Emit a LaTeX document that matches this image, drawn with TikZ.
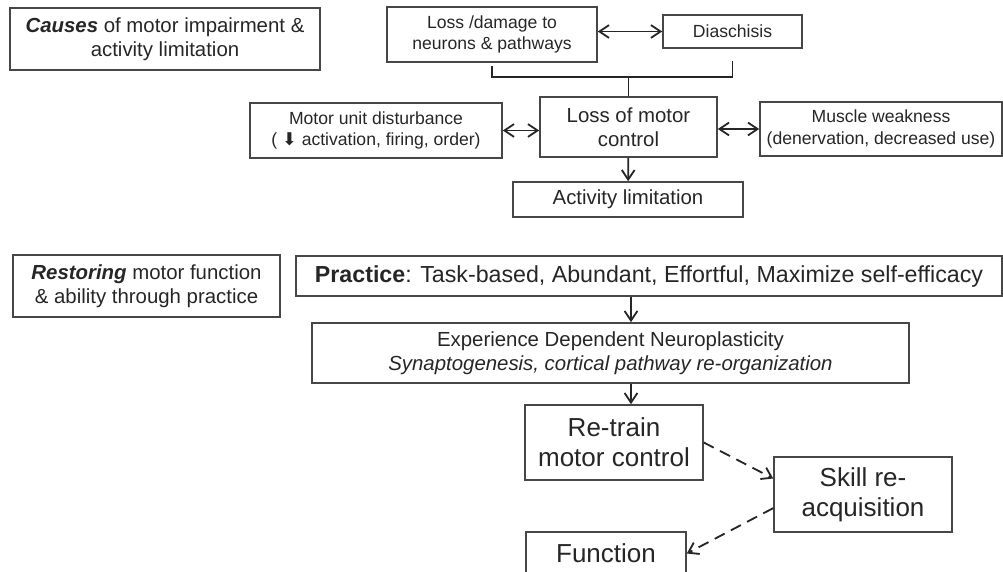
\documentclass[tikz,border=0pt]{standalone}
\usepackage{fontspec}
\setmainfont{Liberation Sans}
\newfontfamily\symfont{DejaVu Sans}
\usetikzlibrary{arrows.meta,positioning}

\begin{document}
\begin{tikzpicture}[x=0.025cm,y=-0.025cm,
    >={Straight Barb[length=2.4mm,width=3.2mm]},
    box/.style={draw=black!72,line width=1.1pt,align=center,inner sep=2pt,text=black!85},
    sz/.style 2 args={minimum width=#1*0.025cm,minimum height=#2*0.025cm},
    smallfont/.style={font=\fontsize{12.5}{15.5}\selectfont},
    midfont/.style={font=\fontsize{14.5}{17}\selectfont},
    bigfont/.style={font=\fontsize{18.5}{21.5}\selectfont},
    link/.style={draw=black!85,line width=1.3pt},
    dashlink/.style={link,dash pattern=on 8pt off 5pt}]
\clip (0,0) rectangle (1003,571);

% causes
\node[box,midfont,sz={310}{62}] (causes) at (165,39) {\textbf{\textit{Causes}} of motor impairment \&\\activity limitation};
\node[box,smallfont,sz={210}{55}] (loss) at (492,34.5) {Loss /damage to\\neurons \& pathways};
\node[box,smallfont,sz={139}{33}] (dia) at (732.5,31.5) {Diaschisis};
\node[box,midfont,sz={177}{60}] (lmc) at (628.5,127) {Loss of motor\\control};
\node[box,smallfont,sz={252}{55}] (mud) at (376,130.5) {Motor unit disturbance\\( {\symfont ⬇} activation, firing, order)};
\node[box,smallfont,sz={242}{54}] (mw) at (881,129) {Muscle weakness\\(denervation, decreased use)};
\node[box,midfont,sz={230}{35}] (act) at (628,199.5) {Activity limitation};

% restoring
\node[box,midfont,sz={267}{62}] (rest) at (146.5,286) {\textbf{\textit{Restoring}} motor function\\\& ability through practice};
\node[box,font=\fontsize{16.5}{19}\selectfont,sz={706}{40}] (prac) at (649,276) {\textbf{Practice}: Task-based, Abundant, Effortful, Maximize self-efficacy};
\node[box,midfont,sz={597}{60}] (exp) at (610.5,353) {Experience Dependent Neuroplasticity\\\textit{Synaptogenesis, cortical pathway re-organization}};
\node[box,bigfont,sz={178}{75}] (ret) at (614,442.5) {Re-train\\motor control};
\node[box,bigfont,sz={178}{75}] (skill) at (863,494.5) {Skill re-\\acquisition};
\node[box,bigfont,sz={160}{43}] (func) at (606,553.5) {Function};

\coordinate (brk) at (lmc.north |- 0,77);
\coordinate (ax) at (631,0);

\draw[link] (loss.south) ++(0,3) |- (brk) -| ([yshift=-0.3cm]dia.south);
\draw[link] (brk) -- (lmc.north);
\draw[link,<->] (loss.east |- dia.west) -- (dia.west);
\draw[link,<->] (mud.east) -- (mud.east -| lmc.west);
\draw[link,<->] (lmc.east |- mw.west) -- (mw.west);
\draw[link,->] (lmc) -- (act);
\draw[link,->] (prac.south -| ax) -- (exp.north -| ax);
\draw[link,->] (exp.south -| ax) -- (ret.north -| ax);
\draw[dashlink,->] (ret.east) -- ([yshift=0.4cm]skill.west);
\draw[dashlink,->] ([yshift=-0.34cm]skill.west) -- (func.east);
\end{tikzpicture}
\end{document}
